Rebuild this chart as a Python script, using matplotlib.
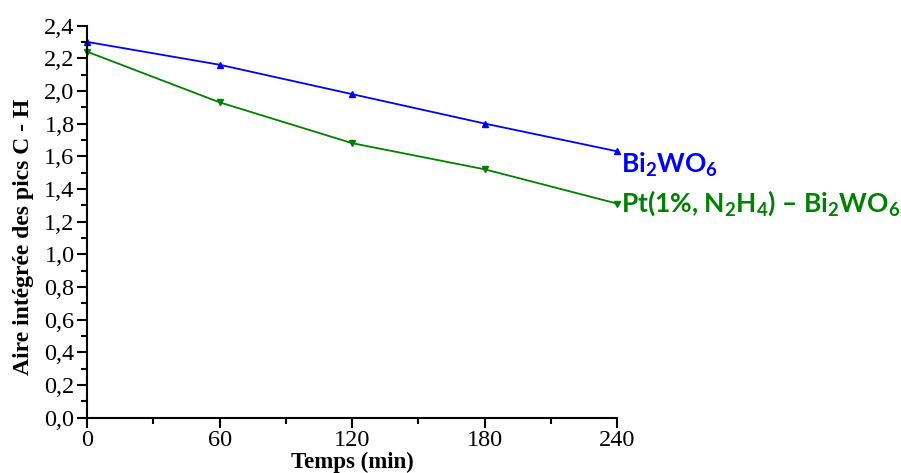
import numpy as np
import matplotlib
matplotlib.use("Agg")
import matplotlib.pyplot as plt
from matplotlib.ticker import MultipleLocator, FuncFormatter

plt.rcParams['mathtext.fontset'] = 'custom'
plt.rcParams['mathtext.rm'] = 'Lato:bold'
plt.rcParams['mathtext.it'] = 'Lato:bold'
plt.rcParams['mathtext.bf'] = 'Lato:bold'

# donnees
temps = [0, 60, 120, 180, 240]
bi2wo6 = [2.30, 2.16, 1.98, 1.80, 1.63]
pt_bi2wo6 = [2.24, 1.93, 1.68, 1.52, 1.31]
nom_bi = 'Bi$_2$WO$_6$'
nom_pt = 'Pt(1%, N$_2$H$_4$) – Bi$_2$WO$_6$'

fig = plt.figure(figsize=(9.01, 4.73), dpi=100)
ax = fig.add_axes([0.0966, 0.117, 0.5885, 0.829])

ax.plot(temps, bi2wo6, color='#0000ff', marker='^', markersize=5, lw=1.3, clip_on=False)
ax.plot(temps, pt_bi2wo6, color='#008000', marker='v', markersize=5, lw=1.3, clip_on=False)

ax.set_xlim(0, 240)
ax.set_ylim(0, 2.4)
ax.xaxis.set_major_locator(MultipleLocator(60))
ax.xaxis.set_minor_locator(MultipleLocator(30))
ax.yaxis.set_major_locator(MultipleLocator(0.2))
ax.yaxis.set_minor_locator(MultipleLocator(0.1))
ax.yaxis.set_major_formatter(FuncFormatter(lambda v, p: ('%.1f' % v).replace('.', ',')))

for s in ['top', 'right']:
    ax.spines[s].set_visible(False)
for s in ['left', 'bottom']:
    ax.spines[s].set_linewidth(1.5)

ax.tick_params(which='both', direction='out', width=1.5, labelsize=17.5)
ax.tick_params(which='major', length=7)
ax.tick_params(which='minor', length=4)
ax.tick_params(axis='x', pad=2)
ax.tick_params(axis='y', pad=2)
for lab in ax.get_xticklabels() + ax.get_yticklabels():
    lab.set_family('Liberation Serif')

ax.set_xlabel('Temps (min)', family='Liberation Serif', fontweight='bold',
              fontsize=16.5)
ax.xaxis.set_label_coords(0.5, -0.086)
ax.set_ylabel('Aire intégrée des pics C - H', family='Liberation Serif',
              fontweight='bold', fontsize=17)
ax.yaxis.set_label_coords(-0.1, 0.46)

ax.annotate(nom_bi, (temps[-1], bi2wo6[-1]), xytext=(3, -10), textcoords='offset points',
            color='#0000ff', family='Lato', fontweight='bold', fontsize=19,
            va='center', ha='left', annotation_clip=False)
ax.annotate(nom_pt, (temps[-1], pt_bi2wo6[-1]), xytext=(3, 0), textcoords='offset points',
            color='#008000', family='Lato', fontweight='bold', fontsize=19,
            va='center', ha='left', annotation_clip=False)

fig.savefig('out.png', dpi=100)
